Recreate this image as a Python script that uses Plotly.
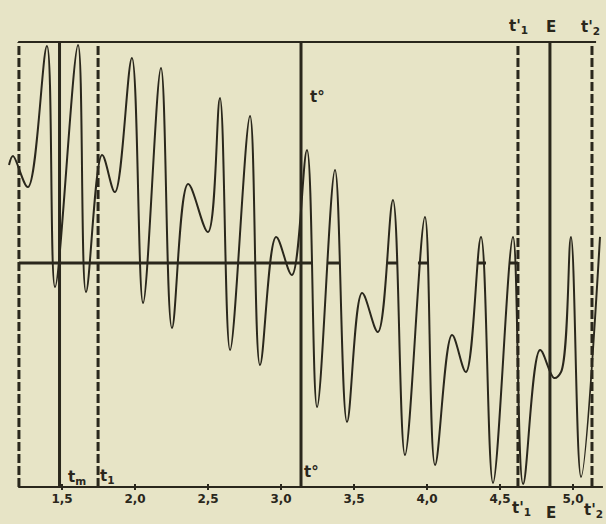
import plotly.graph_objects as go

# ---- data (x in time units, y relative to baseline) ----
curve_x = [1.137, 1.164, 1.267, 1.397, 1.452, 1.610, 1.664, 1.774, 1.863, 1.979,
           2.055, 2.178, 2.253, 2.363, 2.500, 2.582, 2.651, 2.788, 2.856, 2.966,
           3.075, 3.178, 3.247, 3.370, 3.452, 3.555, 3.664, 3.767, 3.849, 3.986,
           4.055, 4.171, 4.267, 4.370, 4.452, 4.589, 4.658, 4.774, 4.870, 4.918,
           4.986, 5.055, 5.185]
curve_y = [0.443, 0.484, 0.344, 0.982, -0.109, 0.986, -0.131, 0.489, 0.321, 0.928,
           -0.181, 0.882, -0.294, 0.357, 0.140, 0.747, -0.394, 0.665, -0.462, 0.118,
           -0.054, 0.511, -0.652, 0.421, -0.719, -0.136, -0.312, 0.285, -0.869, 0.208,
           -0.914, -0.326, -0.493, 0.118, -0.995, 0.118, -1.000, -0.394, -0.520, -0.493,
           0.118, -0.968, 0.118]

solid_marks = [1.483, 3.137, 4.842]          # t_m, t°, E
dashed_marks = [1.205, 1.747, 4.623, 5.130]  # left edge, t1, t1', t2'

baseline_start = [1.205, 3.315, 3.733, 3.938, 4.349, 4.562]
baseline_end = [3.212, 3.404, 3.801, 4.007, 4.404, 4.623]

tick_vals = [1.5, 2.0, 2.5, 3.0, 3.5, 4.0, 4.5, 5.0]
tick_text = ["1,5", "2,0", "2,5", "3,0", "3,5", "4,0", "4,5", "5,0"]

frame_left = 1.2
frame_top_right = 5.158
frame_bottom_right = 5.205
y_top = 1.0
y_bottom = -1.0136

# labels: text, x (time units), y (fraction of plot height)
label_text = ["t<sub>m</sub>", "t<sub>1</sub>", "t°", "t°",
              "t'<sub>1</sub>", "E", "t'<sub>2</sub>",
              "t'<sub>1</sub>", "E", "t'<sub>2</sub>"]
label_x = [1.603, 1.808, 3.212, 3.253, 4.630, 4.849, 5.123, 4.648, 4.849, 5.140]
label_y = [0.026, 0.028, 0.037, 0.802, 0.945, 0.945, 0.943, -0.037, -0.047, -0.041]

INK = "#2a271c"
PAPER = "#e7e4c6"

fig = go.Figure()

# baseline pieces
bx, by = [], []
for s, e in zip(baseline_start, baseline_end):
    bx += [s, e, None]
    by += [0, 0, None]
fig.add_trace(go.Scatter(x=bx, y=by, mode="lines",
                         line=dict(color=INK, width=3), hoverinfo="skip"))

# curve
fig.add_trace(go.Scatter(x=curve_x, y=curve_y, mode="lines",
                         line=dict(color=INK, width=2, shape="spline", smoothing=1.0),
                         hoverinfo="skip"))

shapes = []
shapes.append(dict(type="line", xref="x", yref="y", x0=frame_left, x1=frame_top_right,
                   y0=y_top, y1=y_top, line=dict(color=INK, width=2)))
shapes.append(dict(type="line", xref="x", yref="y", x0=frame_left, x1=frame_bottom_right,
                   y0=y_bottom, y1=y_bottom, line=dict(color=INK, width=2)))
for m in solid_marks:
    shapes.append(dict(type="line", xref="x", yref="y", x0=m, x1=m, y0=y_bottom, y1=y_top,
                       line=dict(color=INK, width=3)))
for m in dashed_marks:
    shapes.append(dict(type="line", xref="x", yref="y", x0=m, x1=m, y0=y_bottom, y1=y_top,
                       line=dict(color=INK, width=3, dash="9px,3px")))

annotations = []
for i, (t, x, y) in enumerate(zip(label_text, label_x, label_y)):
    annotations.append(dict(text=t, x=x, y=y, xref="x", yref="paper", showarrow=False,
                            xanchor="center", yanchor="middle",
                            font=dict(family="DejaVu Sans", size=15, color=INK, weight="bold")))

fig.update_layout(
    width=606, height=524,
    margin=dict(l=0, r=0, t=0, b=34),
    paper_bgcolor=PAPER, plot_bgcolor=PAPER,
    showlegend=False,
    shapes=shapes, annotations=annotations,
    xaxis=dict(range=[1.0753, 5.226], tickvals=tick_vals, ticktext=tick_text,
               ticks="inside", ticklen=6, tickwidth=1.5, tickcolor=INK,
               showgrid=False, zeroline=False, showline=False,
               tickfont=dict(family="DejaVu Sans", size=12, color=INK, weight="bold")),
    yaxis=dict(range=[-1.027, 1.190], showgrid=False, zeroline=False,
               showticklabels=False, showline=False),
)

fig.write_html("out.html", config={"displayModeBar": False},
               post_script="document.body.style.margin='0';document.body.style.background='" + PAPER + "';")
